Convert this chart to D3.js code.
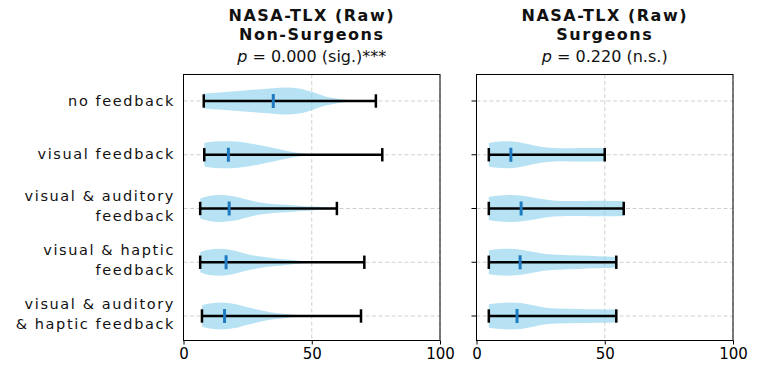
<!DOCTYPE html>
<html><head><meta charset="utf-8">
<script src="https://cdn.jsdelivr.net/npm/d3@7"></script>
<style>body{margin:0;background:#fff}svg{display:block}text{font-family:"DejaVu Sans",sans-serif}</style>
</head><body><svg id="c" width="764" height="365"></svg>
<script>
const categories = [["no feedback"],["visual feedback"],["visual & auditory","feedback"],["visual & haptic","feedback"],["visual & auditory","& haptic feedback"]];
const xTicks = [0, 50, 100];
const panelTitles = [["NASA-TLX (Raw)","Non-Surgeons"],["NASA-TLX (Raw)","Surgeons"]];
const pValues = ["0.000 (sig.)***", "0.220 (n.s.)"];

// Non-surgeons
const nsMin = [7.9, 8.1, 6.5, 6.5, 7.2];
const nsMax = [75.0, 77.5, 59.8, 70.5, 69.2];
const nsMedian = [35.0, 17.5, 17.8, 16.6, 16.0];
const nsDensity = [
  [[7.9,0.55],[15,0.66],[25,0.8],[35,0.95],[40,1.0],[45,0.93],[50,0.68],[55,0.36],[60,0.16],[65,0.06],[70,0.03],[75,0.02]],
  [[8.1,0.88],[12,0.98],[18,1.0],[25,0.88],[30,0.7],[35,0.5],[40,0.3],[45,0.13],[50,0.04],[55,0.02],[65,0.01],[77.5,0.01]],
  [[6.5,0.75],[10,0.93],[14,1.0],[20,0.9],[25,0.65],[30,0.45],[35,0.33],[40,0.27],[45,0.2],[50,0.14],[55,0.09],[59.8,0.06]],
  [[6.5,0.75],[10,0.95],[14,1.0],[20,0.85],[25,0.6],[30,0.42],[35,0.3],[40,0.2],[45,0.12],[50,0.06],[55,0.03],[62,0.02],[70.5,0.01]],
  [[7.2,0.8],[11,0.95],[15,1.0],[20,0.9],[25,0.65],[30,0.42],[35,0.25],[40,0.14],[45,0.06],[50,0.03],[58,0.015],[69.2,0.01]]
];
// Surgeons (no data for "no feedback")
const sMin = [null, 4.8, 4.8, 4.8, 4.8];
const sMax = [null, 50.0, 57.4, 54.5, 54.5];
const sMedian = [null, 13.4, 17.4, 17.0, 15.8];
const sDensity = [
  null,
  [[4.8,0.88],[8,0.97],[12,1.0],[16,0.95],[20,0.8],[25,0.6],[30,0.5],[35,0.48],[40,0.5],[45,0.5],[50,0.48]],
  [[4.8,0.85],[8,0.95],[14,1.0],[20,0.9],[25,0.72],[30,0.6],[35,0.55],[40,0.55],[45,0.57],[50,0.58],[57.4,0.55]],
  [[4.8,0.9],[8,0.97],[12,1.0],[18,0.92],[22,0.78],[27,0.62],[32,0.55],[40,0.5],[47,0.45],[54.5,0.4]],
  [[4.8,0.88],[8,0.95],[13,1.0],[18,0.95],[22,0.8],[27,0.62],[32,0.55],[40,0.52],[47,0.5],[54.5,0.48]]
];

const panels = [
  {x0:183.5, x1:440, title:panelTitles[0], p:pValues[0], mins:nsMin, maxs:nsMax, meds:nsMedian, dens:nsDensity, labels:true},
  {x0:476.5, x1:733, title:panelTitles[1], p:pValues[1], mins:sMin, maxs:sMax, meds:sMedian, dens:sDensity, labels:false}
];
const yTop = 74.5, yBottom = 340.5;
const svg = d3.select("#c");
const y = d3.scaleLinear().domain([1,5]).range([101, 316]);
const step = y(2) - y(1);

panels.forEach(P => {
  const x = d3.scaleLinear().domain([0,100]).range([P.x0, P.x1]);
  const g = svg.append("g");
  // grid
  g.selectAll(".vg").data(xTicks).join("line")
    .attr("x1", d=>x(d)).attr("x2", d=>x(d)).attr("y1", yTop).attr("y2", yBottom)
    .attr("stroke","#d0d0d0").attr("stroke-width",1).attr("stroke-dasharray","4,2.5");
  g.selectAll(".hg").data(categories).join("line")
    .attr("x1", P.x0).attr("x2", P.x1).attr("y1", (d,i)=>y(i+1)).attr("y2", (d,i)=>y(i+1))
    .attr("stroke","#d0d0d0").attr("stroke-width",1).attr("stroke-dasharray","4,2.5");
  // violins
  P.dens.forEach((dd, i) => {
    if (!dd) return;
    const c = y(i+1), hw = 0.25*step;
    const area = d3.area().x(d=>x(d[0])).y0(d=>c - hw*d[1]).y1(d=>c + hw*d[1]).curve(d3.curveMonotoneX);
    g.append("path").attr("d", area(dd)).attr("fill","#87ceeb").attr("fill-opacity",0.6);
  });
  // whiskers
  P.mins.forEach((mn, i) => {
    if (mn == null) return;
    const c = y(i+1), mx = P.maxs[i];
    g.append("line").attr("x1",x(mn)).attr("x2",x(mx)).attr("y1",c).attr("y2",c).attr("stroke","#000").attr("stroke-width",2.5);
    [mn, mx].forEach(v => g.append("line").attr("x1",x(v)).attr("x2",x(v)).attr("y1",c-6.7).attr("y2",c+6.7).attr("stroke","#000").attr("stroke-width",2.5));
    g.append("line").attr("x1",x(P.meds[i])).attr("x2",x(P.meds[i])).attr("y1",c-7).attr("y2",c+7).attr("stroke","#1f7ac0").attr("stroke-width",3);
  });
  // frame
  g.append("rect").attr("x",P.x0).attr("y",yTop).attr("width",P.x1-P.x0).attr("height",yBottom-yTop)
    .attr("fill","none").attr("stroke","#000").attr("stroke-width",1);
  // x axis
  const xa = svg.append("g").attr("transform",`translate(0,${yBottom})`)
    .call(d3.axisBottom(x).tickValues(xTicks).tickSize(4).tickPadding(4).tickFormat(d3.format("d")));
  xa.select(".domain").remove();
  xa.selectAll("text").attr("font-size",15).attr("fill","#000").attr("font-family","DejaVu Sans");
  // y ticks
  if (P.labels) {
    categories.forEach((lines, i) => {
      const c = y(i+1);
      const t = svg.append("text").attr("text-anchor","end").attr("font-size",14.5).attr("letter-spacing","1.6px").attr("fill","#111");
      lines.forEach((ln, k) => {
        const off = lines.length === 1 ? 4.5 : (k === 0 ? -7.5 : 12.5);
        t.append("tspan").attr("x", 175).attr("y", c + off).text(ln);
      });
    });
  } else {
    categories.forEach((lines, i) => {
      svg.append("line").attr("x1",P.x0-5).attr("x2",P.x0).attr("y1",y(i+1)).attr("y2",y(i+1)).attr("stroke","#000").attr("stroke-width",1);
    });
  }
  // titles
  const cx = (P.x0 + P.x1)/2;
  P.title.forEach((ln, k) => {
    svg.append("text").attr("x", cx).attr("y", k===0 ? 21 : 40).attr("text-anchor","middle")
      .attr("font-size",16).attr("font-weight","bold").attr("letter-spacing","1.5px").attr("fill","#111").text(ln);
  });
  const pt = svg.append("text").attr("x", cx).attr("y", 62).attr("text-anchor","middle").attr("font-size",16).attr("fill","#111");
  pt.append("tspan").attr("font-style","italic").text("p");
  pt.append("tspan").text(" = " + P.p);
});
</script></body></html>
